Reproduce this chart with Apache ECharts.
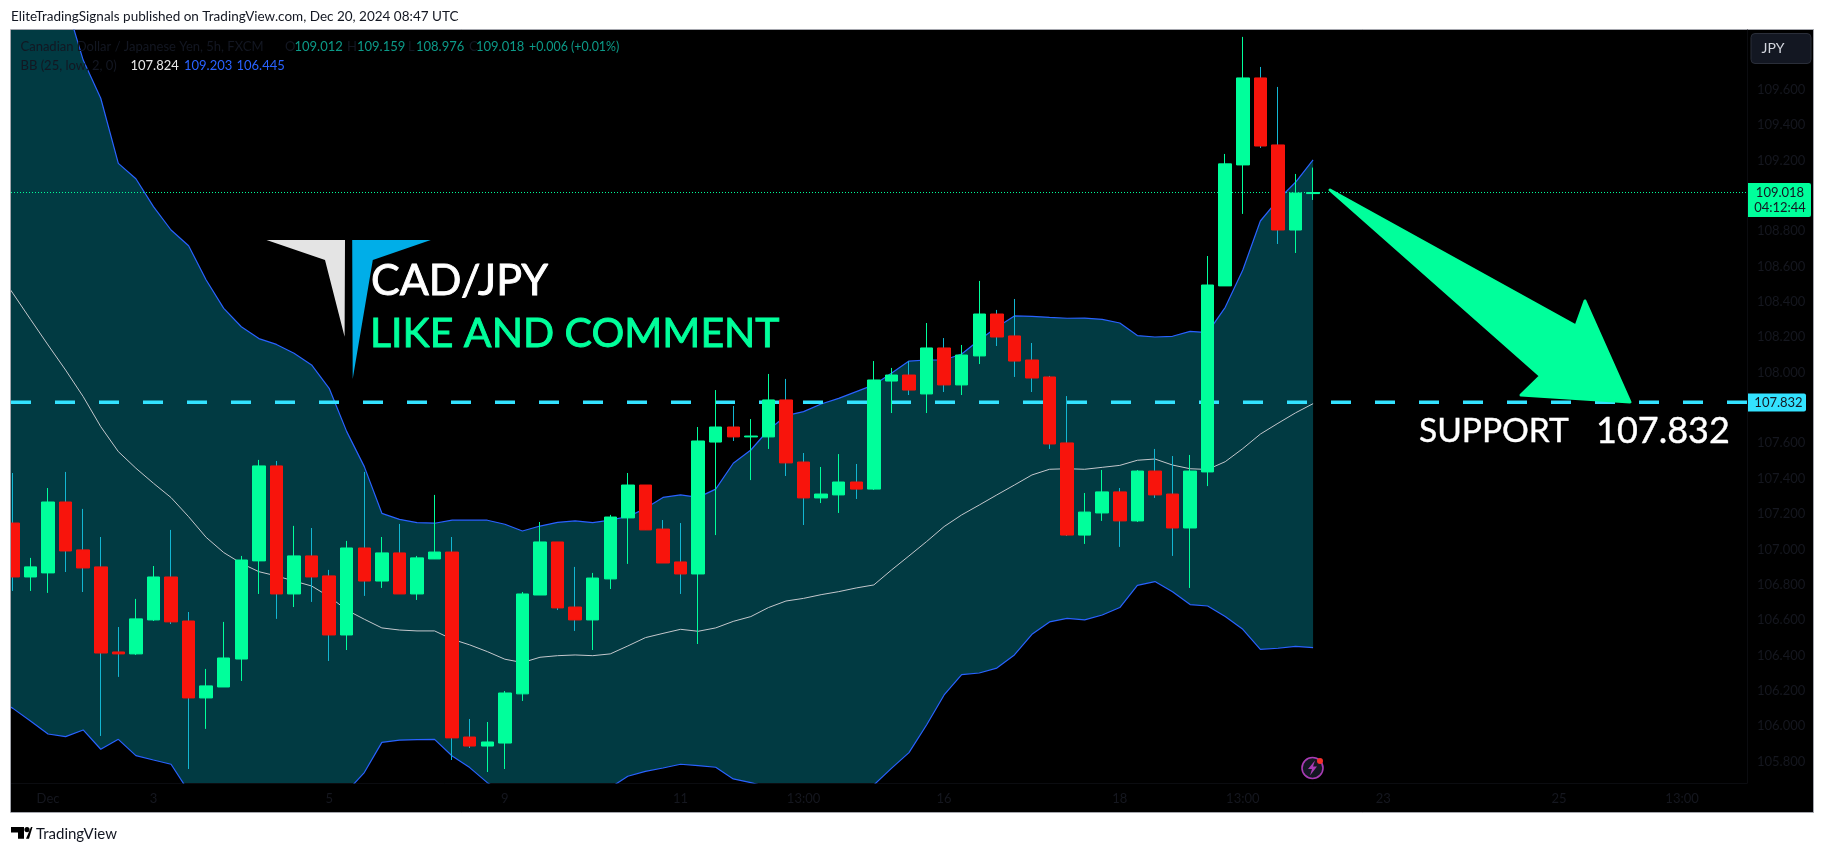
<!DOCTYPE html>
<html><head><meta charset="utf-8">
<style>html,body{margin:0;padding:0;background:#fff}#c{width:1826px;height:853px}</style>
<script src="https://cdn.jsdelivr.net/npm/echarts@6/dist/echarts.min.js"></script>
</head><body><div id="c"></div>
<script>
// ---------- DATA (CAD/JPY 5h) ----------
const candleOpen = [107.149,106.844,106.867,107.268,106.997,106.901,106.420,106.409,106.601,106.844,106.595,106.160,106.222,106.380,106.935,107.472,106.748,106.963,106.850,106.516,107.008,106.821,106.980,106.748,106.946,106.985,105.939,105.888,105.905,106.183,106.742,107.042,106.674,106.601,106.833,107.178,107.364,107.115,106.929,106.861,107.607,107.692,107.636,107.636,107.845,107.494,107.291,107.308,107.381,107.341,107.952,107.986,107.879,108.139,107.930,108.094,108.331,108.207,108.071,107.975,107.602,107.081,107.206,107.325,107.161,107.443,107.313,107.121,107.438,108.490,109.174,109.666,109.287,108.806,109.012];
const candleClose = [106.844,106.901,107.268,106.991,106.895,106.414,106.409,106.607,106.844,106.590,106.160,106.228,106.386,106.940,107.472,106.748,106.963,106.844,106.516,107.008,106.821,106.980,106.748,106.952,106.985,105.934,105.888,105.911,106.188,106.748,107.042,106.669,106.601,106.838,107.183,107.364,107.110,106.923,106.861,107.613,107.692,107.636,107.641,107.845,107.489,107.291,107.313,107.381,107.341,107.958,107.986,107.901,108.139,107.930,108.099,108.331,108.201,108.065,107.969,107.596,107.081,107.211,107.325,107.161,107.443,107.308,107.121,107.443,108.495,109.180,109.666,109.281,108.806,109.015,109.018];
const candleLow = [106.765,106.765,106.754,106.872,106.759,105.945,106.279,106.403,106.595,106.578,105.758,105.985,106.222,106.256,106.748,106.607,106.674,106.703,106.369,106.431,106.737,106.782,106.748,106.714,106.946,105.809,105.877,105.741,105.758,106.143,106.742,106.657,106.539,106.431,106.776,106.918,107.110,106.923,106.748,106.465,107.081,107.613,107.392,107.568,107.415,107.138,107.262,107.206,107.285,107.336,107.771,107.873,107.771,107.890,107.873,108.048,108.150,107.975,107.890,107.568,107.076,107.031,107.161,107.014,107.155,107.291,106.963,106.782,107.358,108.490,108.897,109.270,108.727,108.676,108.976];
const candleHigh = [107.432,106.952,107.347,107.438,107.229,107.070,106.561,106.720,106.906,107.110,106.646,106.324,106.590,106.963,107.506,107.500,107.133,107.121,106.884,107.048,107.438,107.070,107.144,106.963,107.308,107.070,106.041,106.024,106.199,106.759,107.155,107.042,106.901,106.867,107.195,107.432,107.364,107.166,107.149,107.692,107.901,107.811,107.737,107.992,107.964,107.545,107.466,107.539,107.483,108.065,108.026,108.065,108.280,108.195,108.156,108.518,108.354,108.416,108.167,107.981,107.867,107.319,107.449,107.347,107.449,107.568,107.528,107.534,108.659,109.236,109.898,109.728,109.615,109.123,109.159];
// Bollinger values start one bar before the first visible candle
const bbUpper = [110.60,110.50,110.40,110.25,110.097,109.767,109.551,109.183,109.096,108.938,108.806,108.717,108.523,108.363,108.259,108.192,108.159,108.109,108.043,107.911,107.666,107.468,107.204,107.170,107.151,107.148,107.165,107.165,107.165,107.142,107.104,107.132,107.153,107.161,107.151,107.166,107.185,107.232,107.294,107.308,107.294,107.341,107.487,107.562,107.675,107.756,107.779,107.822,107.854,107.892,107.930,107.996,108.065,108.071,108.071,108.105,108.184,108.256,108.320,108.318,108.312,108.307,108.308,108.301,108.280,108.209,108.201,108.205,108.233,108.226,108.369,108.580,108.857,108.976,109.076,109.203];
const bbBasis = [108.59,108.448,108.301,108.156,108.014,107.864,107.694,107.553,107.459,107.374,107.293,107.185,107.068,106.982,106.921,106.874,106.850,106.821,106.793,106.733,106.657,106.605,106.556,106.544,106.539,106.539,106.492,106.460,106.422,106.379,106.360,106.390,106.399,106.403,106.399,106.409,106.454,106.501,106.525,106.548,106.537,106.556,106.593,106.620,106.671,106.708,106.723,106.744,106.761,106.782,106.799,106.883,106.963,107.044,107.129,107.195,107.251,107.308,107.364,107.421,107.453,107.456,107.453,107.464,107.475,107.504,107.511,107.477,107.456,107.452,107.496,107.570,107.652,107.713,107.772,107.824];
const bbLower = [106.16,106.101,106.030,105.956,105.941,105.979,105.870,105.926,105.834,105.809,105.785,105.632,105.58,105.55,105.52,105.50,105.50,105.50,105.52,105.55,105.630,105.738,105.909,105.921,105.924,105.926,105.832,105.766,105.681,105.62,105.58,105.56,105.55,105.56,105.60,105.653,105.717,105.745,105.764,105.785,105.777,105.768,105.702,105.681,105.655,105.63,105.61,105.60,105.61,105.63,105.668,105.762,105.851,106.007,106.177,106.292,106.301,106.329,106.403,106.520,106.590,106.610,106.601,106.629,106.671,106.797,106.818,106.761,106.688,106.680,106.620,106.548,106.435,106.441,106.452,106.445];
const priceTicks = [105.8,106.0,106.2,106.4,106.6,106.8,107.0,107.2,107.4,107.6,108.0,108.2,108.4,108.6,108.8,109.2,109.4,109.6];
const timeTickBars = [2,8,18,28,38,45,53,63,70,78,88,95];
const timeTickLabels = ['Dec','3','5','9','11','13:00','16','18','13:00','23','25','13:00'];
const supportLevel = 107.832;
const lastPrice = 109.018;

// ---------- LAYOUT ----------
const PX = 17.57, X0 = 12.9;
const plot = {l:11, t:30, r:1747, b:783};
const xMin = (plot.l - X0) / PX, xMax = (plot.r - X0) / PX;
const yMax = 109.937, yMin = 105.679;

const GREEN='#00ff9b', RED='#f8140c', WICK_DN='#12b6d2', BLUE='#2962ff', CYAN='#33e2ff', DIM='#15171f';
const FONT='Lato, "Open Sans", sans-serif';

const idx = candleOpen.map((_, i) => i);
const wickData = idx.map(i => [i, candleOpen[i], candleClose[i], candleLow[i], candleHigh[i]]);
const bodyData = idx.map(i => [i, candleOpen[i], candleClose[i],
  Math.min(candleOpen[i], candleClose[i]), Math.max(candleOpen[i], candleClose[i])]);
const bbX = bbUpper.map((_, i) => i - 1);
const lineOf = arr => arr.map((v, i) => [bbX[i], v]);

function txt(x, y, text, fill, size, opt) {
  const style = {text, fill, font:`${(opt&&opt.weight)||'normal'} ${size}px ${FONT}`,
    textAlign:(opt&&opt.align)||'left', textVerticalAlign:'middle', textBaseline:'middle'};
  if (opt && opt.stroke) { style.stroke = opt.stroke; style.lineWidth = opt.lw || 1; }
  return {type:'text', z:100, x, y, silent:true, style};
}
function poly(points, fill, extra) {
  return {type:'polygon', z:100, silent:true, shape:{points},
    style:Object.assign({fill}, extra||{})};
}

const graphics = [
  {type:'rect', z:-10, silent:true, shape:{x:plot.l-0.5, y:plot.t-0.5, width:1814-plot.l, height:813-plot.t},
   style:{fill:'#000', stroke:'#a4a6ad', lineWidth:1}},
  // page margin over the clipped first candle
  {type:'rect', z:90, silent:true, shape:{x:0, y:plot.t-1, width:plot.l-0.5, height:785}, style:{fill:'#fff'}},
  {type:'line', z:91, silent:true, shape:{x1:plot.l-0.5, y1:plot.t-0.5, x2:plot.l-0.5, y2:812.5}, style:{stroke:'#a4a6ad', lineWidth:1}},
  txt(11,17,'EliteTradingSignals published on TradingView.com, Dec 20, 2024 08:47 UTC','#131722',13.5),
  // TradingView mark
  poly([[11,827],[24,827],[24,838.7],[18,838.7],[18,832.5],[11,832.5]],'#000'),
  {type:'circle', z:100, silent:true, shape:{cx:27,cy:829.6,r:2.6}, style:{fill:'#000'}},
  poly([[26,838.7],[31,827],[33,827],[32.5,827],[29,838.7]],'#000'),
  txt(36,834,'TradingView','#131722',15),
  // status lines
  txt(20.5,47,'Canadian Dollar / Japanese Yen, 5h, FXCM','#131722',13),
  txt(285,47,'O','#131722',13), txt(294.5,47,'109.012','#0c9a88',13),
  txt(347,47,'H','#131722',13), txt(357,47,'109.159','#0c9a88',13),
  txt(408,47,'L','#131722',13), txt(416,47,'108.976','#0c9a88',13),
  txt(469,47,'C','#131722',13), txt(476,47,'109.018','#0c9a88',13),
  txt(529,47,'+0.006 (+0.01%)','#0c9a88',12.4),
  txt(20.5,66,'BB (25, low, 2, 0)','#131722',13),
  txt(130.5,66,'107.824','#e8e8e8',13), txt(184,66,'109.203',BLUE,13), txt(236.5,66,'106.445',BLUE,13),
  // logo and captions
  poly([[266.5,240],[345,240],[344.6,336.7],[325,260]],'#e4e4e4'),
  poly([[352.2,240],[430.8,240],[372.8,260],[352.7,379]],'#00aee8'),
  txt(371,281,'CAD/JPY','#fff',43,{stroke:'#fff',lw:0.9}),
  txt(370,334,'LIKE AND COMMENT',GREEN,41,{stroke:GREEN,lw:0.9}),
  txt(1419,431,'SUPPORT','#fff',33.5,{stroke:'#fff',lw:0.4}),
  txt(1596,431,'107.832','#fff',36,{stroke:'#fff',lw:0.4}),
  // arrow
  poly([[1330,190],[1576,326],[1585,301],[1630,402],[1521,395],[1540.5,376]],GREEN,
       {stroke:GREEN,lineWidth:3,lineJoin:'round'}),
  // price scale
  {type:'rect', z:100, silent:true, shape:{x:1751,y:33.5,width:60,height:30,r:4}, style:{fill:'#131722',stroke:'#2a2e39',lineWidth:1}},
  txt(1773,48.5,'JPY','#d1d4dc',14,{align:'center'}),
  {type:'rect', z:100, silent:true, shape:{x:1748,y:183,width:63,height:34,r:[0,2,2,0]}, style:{fill:GREEN}},
  txt(1780,193,lastPrice.toFixed(3),'#131722',13,{align:'center'}),
  txt(1780,208,'04:12:44','#131722',13,{align:'center'}),
  {type:'rect', z:100, silent:true, shape:{x:1748,y:393.5,width:58,height:18,r:[0,2,2,0]}, style:{fill:CYAN}},
  txt(1778.5,403,supportLevel.toFixed(3),'#131722',13,{align:'center'}),
  // bolt badge
  {type:'circle', z:100, silent:true, shape:{cx:1312.5,cy:768,r:10.5}, style:{fill:'#131722',stroke:'#a83cb4',lineWidth:1.6}},
  poly([[1315,760.5],[1308,769],[1312,769],[1310,775.5],[1317,766.5],[1313,766.5]],'#a83cb4'),
  {type:'circle', z:101, silent:true, shape:{cx:1320,cy:761,r:3}, style:{fill:'#f5302c'}}
];

// Filled channel between the two bands, positioned through the axis scales
function renderBand(params, api) {
  if (params.dataIndex !== 0) return null;
  const top = bbUpper.map((v, i) => api.coord([bbX[i], v]));
  const bot = bbLower.map((v, i) => api.coord([bbX[i], v])).reverse();
  return {type:'polygon', shape:{points:top.concat(bot)}, style:{fill:'#013a42'},
    clipPath:{type:'rect', shape:{x:params.coordSys.x, y:params.coordSys.y, width:params.coordSys.width, height:params.coordSys.height}}};
}

const chart = echarts.init(document.getElementById('c'), null, {renderer:'canvas', width:1826, height:853});
chart.setOption({
  animation:false,
  backgroundColor:'#ffffff',
  grid:{left:plot.l, top:plot.t, right:1826-plot.r, bottom:853-plot.b},
  xAxis:{type:'value', min:xMin, max:xMax, splitLine:{show:false},
    axisLine:{show:true, onZero:false, lineStyle:{color:'#0b0c10'}}, axisTick:{show:false},
    axisLabel:{customValues:timeTickBars, margin:9, color:DIM, fontFamily:FONT, fontSize:13,
      formatter:v => timeTickLabels[timeTickBars.indexOf(v)]}},
  yAxis:{type:'value', position:'right', min:yMin, max:yMax, scale:true, splitLine:{show:false},
    axisLine:{show:true, onZero:false, lineStyle:{color:'#0b0c10'}}, axisTick:{show:false},
    axisLabel:{customValues:priceTicks, margin:10, color:DIM, fontFamily:FONT, fontSize:13,
      formatter:v => v.toFixed(3)}},
  graphic:{elements:graphics},
  series:[
    {type:'custom', name:'bbFill', z:1, silent:true, coordinateSystem:'cartesian2d', renderItem:renderBand,
     encode:{x:0,y:1}, data:lineOf(bbBasis)},
    {type:'line', name:'basis', z:2, data:lineOf(bbBasis), symbol:'none', silent:true, lineStyle:{width:1, color:'#c4c7cc'}},
    {type:'line', name:'upper', z:2, data:lineOf(bbUpper), symbol:'none', silent:true, lineStyle:{width:1.2, color:BLUE}},
    {type:'line', name:'lower', z:2, data:lineOf(bbLower), symbol:'none', silent:true, lineStyle:{width:1.2, color:BLUE}},
    {type:'line', name:'last', z:2, data:[[xMin,lastPrice],[xMax,lastPrice]], symbol:'none', silent:true,
     lineStyle:{width:1, color:GREEN, type:[1,2]}},
    {type:'line', name:'support', z:3, data:[[xMin,supportLevel],[xMax,supportLevel]], symbol:'none', silent:true,
     lineStyle:{width:3.5, color:CYAN, type:[20,24]}},
    {type:'candlestick', name:'wicks', z:4, barWidth:1, silent:true, encode:{x:0,y:[1,2,3,4]}, data:wickData,
     itemStyle:{color:GREEN,color0:WICK_DN,borderColor:GREEN,borderColor0:WICK_DN,borderWidth:1}},
    {type:'candlestick', name:'bodies', z:5, barWidth:13, silent:true, encode:{x:0,y:[1,2,3,4]}, data:bodyData,
     itemStyle:{color:GREEN,color0:RED,borderColor:GREEN,borderColor0:RED,borderWidth:1}}
  ]
});
</script></body></html>
